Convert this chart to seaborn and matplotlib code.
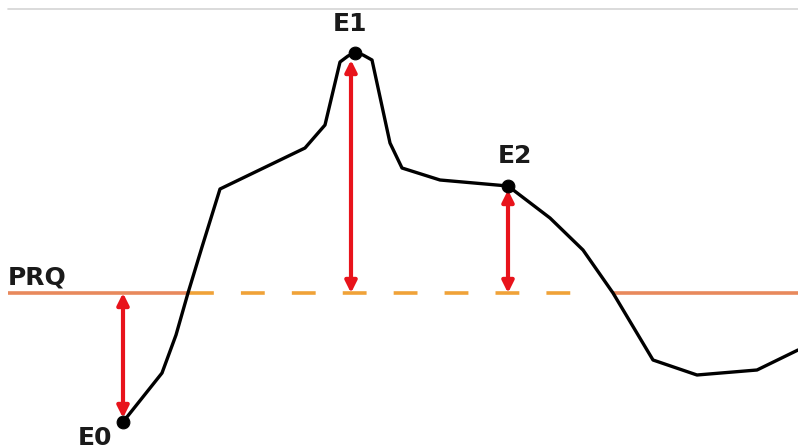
import matplotlib
matplotlib.use("Agg")
import matplotlib.pyplot as plt
import seaborn as sns
import pandas as pd

sns.set_theme(style="white")
plt.rcParams['font.family'] = ['DejaVu Sans']

# Reaction coordinate (x) and energy relative to PRQ (y, arbitrary units)
reaction_coord = [123, 162, 176, 188, 202, 220, 305, 325, 340, 348, 355, 363, 372,
                  390, 402, 440, 508, 550, 583, 613, 653, 697, 757, 798]
energy = [-129, -80, -42, 0, 46, 104, 145, 168, 231, 237, 240, 238, 233,
          150, 125, 113, 107, 75, 43, 0, -67, -82, -77, -57]

state_labels = ["E0", "E1", "E2"]
state_x = [123, 355, 508]
state_energy = [-129, 240, 107]
arrow_x = [123, 351, 508]
arrow_tip = [-125, 233, 103]
prq_level = 0

df = pd.DataFrame({"x": reaction_coord, "E": energy})
states = pd.DataFrame({"x": state_x, "E": state_energy, "label": state_labels})

fig = plt.figure(figsize=(7.98, 4.47), dpi=100)
ax = fig.add_axes([0, 0, 1, 1])

# top grey rule
ax.plot([8, 798], [284, 284], color="#d4d4d4", lw=1.2)

# PRQ reference line: solid, dashed, solid
ax.plot([8, 190], [prq_level, prq_level], color="#e8895c", lw=2.6, solid_capstyle="butt")
ax.plot([190, 582], [prq_level, prq_level], color="#f0a238", lw=2.6,
        dashes=(6.6, 7.5), dash_capstyle="butt")
ax.plot([613, 798], [prq_level, prq_level], color="#e8895c", lw=2.6, solid_capstyle="butt")
ax.text(8, 9, "PRQ", fontsize=18, fontweight="bold", color="#1a1a1a",
        ha="left", va="baseline")

# arrows
for xa, tip in zip(arrow_x, arrow_tip):
    ax.annotate("", xy=(xa, tip), xytext=(xa, prq_level),
                arrowprops=dict(arrowstyle="<|-|>", color="#e8131b", lw=3.0,
                                mutation_scale=17, shrinkA=0, shrinkB=0))

# curve
sns.lineplot(data=df, x="x", y="E", sort=False, color="black", lw=2.4, ax=ax)
sns.scatterplot(data=states, x="x", y="E", color="black", s=85, ax=ax,
                edgecolor="black", zorder=5)
ax.set_xlim(0, 798)
ax.set_ylim(-154, 293)
ax.axis("off")

label_pos = {"E0": (95, -152), "E1": (350, 262), "E2": (515, 130)}
for lab in state_labels:
    lx, ly = label_pos[lab]
    ax.text(lx, ly, lab, fontsize=18, fontweight="bold",
            color="#1a1a1a", ha="center", va="baseline")

fig.savefig("out.png", dpi=100)
